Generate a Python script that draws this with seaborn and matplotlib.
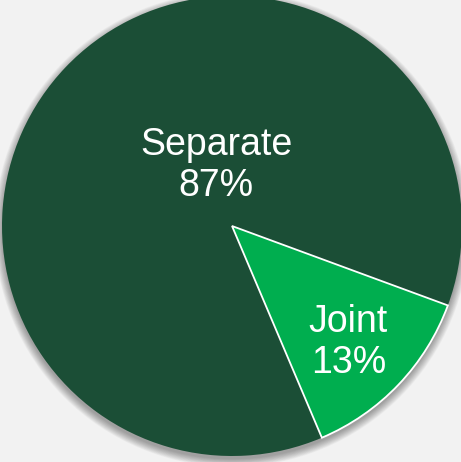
import numpy as np
import matplotlib
matplotlib.use("Agg")
import matplotlib.pyplot as plt
from matplotlib.patches import Circle
import seaborn as sns

# Share of filing types
categories = ["Separate", "Joint"]
shares = [87, 13]
colors = ["#1B4E36", "#00AE4F"]

sns.set_theme(style="white")
plt.rcParams["font.family"] = ["Liberation Sans", "DejaVu Sans"]

bg = "#F2F2F2"
fig = plt.figure(figsize=(4.61, 4.62), dpi=100, facecolor=bg)
ax = fig.add_axes([0, 0, 1, 1])
ax.set_facecolor(bg)

# soft drop shadow under the pie
for k in range(12):
    r = 1.0 + 0.003 * k
    ax.add_patch(Circle((0, -0.014), r, facecolor="#000000", alpha=0.03,
                        edgecolor="none", zorder=0))

wedges, _ = ax.pie(shares, colors=colors, startangle=-20.2, counterclock=True,
                   radius=1.0, normalize=True)
wedges[0].set_edgecolor("none")
wedges[0].set_zorder(2)
wedges[1].set_edgecolor("white")
wedges[1].set_linewidth(1.3)
wedges[1].set_zorder(3)

# label placement (angle in degrees, distance from centre)
label_pos = {"Separate": (104.5, 0.272), "Joint": (-45.0, 0.715)}
for name, val in zip(categories, shares):
    ang, dist = label_pos[name]
    x = dist * np.cos(np.radians(ang))
    y = dist * np.sin(np.radians(ang))
    ax.text(x, y, f"{name}\n{val}%", ha="center", va="center", color="white",
            fontsize=27, linespacing=1.16, zorder=4)

s = 230.0
ax.set_xlim(-232 / s, (461 - 232) / s)
ax.set_ylim((226 - 462) / s, 226 / s)
ax.set_aspect("auto")
ax.axis("off")

fig.savefig("out.png", dpi=100, facecolor=bg)
